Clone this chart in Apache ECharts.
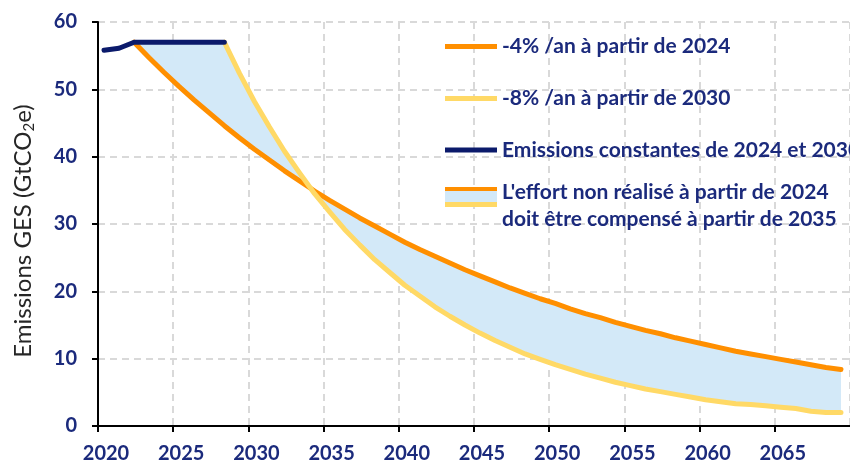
<!DOCTYPE html>
<html><head><meta charset="utf-8">
<script src="https://cdn.jsdelivr.net/npm/echarts@6/dist/echarts.min.js"></script>
<style>html,body{margin:0;padding:0;background:#fff}#c{width:850px;height:464px}</style>
</head><body><div id="c"></div>
<script>
// ---- data ----
const legendNames = [
  '-4% /an à partir de 2024',
  '-8% /an à partir de 2030',
  'Emissions constantes de 2024 et 2030',
  "L'effort non réalisé à partir de 2024\ndoit être compensé à partir de 2035"
];
// constant emissions (navy)
const navyYears  = [2020.4, 2021.4, 2022.4, 2023.4, 2024.4, 2025.4, 2026.4, 2027.4, 2028.4];
const navyValues = [55.8, 56.1, 57.0, 57.0, 57.0, 57.0, 57.0, 57.0, 57.0];
// -4%/an path (orange)
const orangeYears = [2022.4, 2023.4, 2024.4, 2025.4, 2026.4, 2027.4, 2028.4, 2029.4, 2030.4, 2031.4,
  2032.4, 2033.4, 2034.4, 2035.4, 2036.4, 2037.4, 2038.4, 2039.4, 2040.4, 2041.4,
  2042.4, 2043.4, 2044.4, 2045.4, 2046.4, 2047.4, 2048.4, 2049.4, 2050.4, 2051.4,
  2052.4, 2053.4, 2054.4, 2055.4, 2056.4, 2057.4, 2058.4, 2059.4, 2060.4, 2061.4,
  2062.4, 2063.4, 2064.4, 2065.4, 2066.4, 2067.4, 2068.4, 2069.4];
const orangeValues = [57.0, 54.7, 52.5, 50.4, 48.4, 46.5, 44.6, 42.8, 41.1, 39.5,
  37.9, 36.4, 34.9, 33.5, 32.2, 30.9, 29.7, 28.5, 27.3, 26.2,
  25.2, 24.2, 23.2, 22.3, 21.4, 20.5, 19.7, 18.9, 18.2, 17.4,
  16.7, 16.1, 15.4, 14.8, 14.2, 13.7, 13.1, 12.6, 12.1, 11.6,
  11.1, 10.7, 10.3, 9.9, 9.5, 9.1, 8.7, 8.4];
// -8%/an path (yellow)
const yellowYears = [2028.4, 2029.4, 2030.4, 2031.4, 2032.4, 2033.4, 2034.4, 2035.4, 2036.4, 2037.4,
  2038.4, 2039.4, 2040.4, 2041.4, 2042.4, 2043.4, 2044.4, 2045.4, 2046.4, 2047.4,
  2048.4, 2049.4, 2050.4, 2051.4, 2052.4, 2053.4, 2054.4, 2055.4, 2056.4, 2057.4,
  2058.4, 2059.4, 2060.4, 2061.4, 2062.4, 2063.4, 2064.4, 2065.4, 2066.4, 2067.4,
  2068.4, 2069.4];
const yellowValues = [57.0, 52.4, 48.2, 44.4, 40.8, 37.6, 34.5, 31.8, 29.2, 26.9,
  24.7, 22.8, 20.9, 19.3, 17.7, 16.3, 15.0, 13.8, 12.7, 11.7,
  10.7, 9.9, 9.1, 8.4, 7.7, 7.1, 6.5, 6.0, 5.5, 5.1,
  4.7, 4.3, 3.9, 3.6, 3.3, 3.2, 3.0, 2.8, 2.6, 2.2,
  2.0, 2.0];
const xMin = 2020, xMax = 2070, xStep = 5;
const yMin = 0, yMax = 60, yStep = 10;

const pairs = (xs, ys) => xs.map((x, i) => [x, ys[i]]);
// band: upper path = constant emissions then -8% path; lower path = -4% path
const upperPath = pairs(navyYears, navyValues).filter(p => p[0] >= orangeYears[0] && p[0] < yellowYears[0])
  .concat(pairs(yellowYears, yellowValues));
const lowerPath = pairs(orangeYears, orangeValues);

const NAVY_TXT = '#1b2a7c';
const FONT = 'Lato';
const ORANGE = '#ff8f00', YELLOW = '#ffd966', NAVY = '#0b1a6b', BAND = '#d3e9f8';

const legendBase = {
  orient: 'vertical', left: 445, padding: 0, itemWidth: 52, itemHeight: 5, icon: 'rect',
  selectedMode: false,
  textStyle: { color: NAVY_TXT, fontFamily: FONT, fontWeight: 'bold', fontSize: 21, lineHeight: 25 }
};

const chart = echarts.init(document.getElementById('c'), null, { renderer: 'canvas' });
chart.setOption({
  animation: false,
  grid: { left: 98, width: 761, top: 22, bottom: 37 },
  xAxis: {
    type: 'value', min: xMin, max: xMax, interval: xStep,
    axisLine: { lineStyle: { color: '#000', width: 2 } },
    axisTick: { length: 6, lineStyle: { color: '#000', width: 2 } },
    axisLabel: { color: NAVY_TXT, fontFamily: FONT, fontWeight: 'bold', fontSize: 20, margin: 18,
      padding: [0, 0, 0, 16], showMaxLabel: false, formatter: v => String(v) },
    splitLine: { show: true, lineStyle: { color: '#d9d9d9', width: 2, type: [7, 5] } }
  },
  yAxis: {
    type: 'value', min: yMin, max: yMax, interval: yStep,
    name: '{a|Emissions GES (GtCO}{s|2}{a|e)}',
    nameLocation: 'middle', nameGap: 61,
    nameTextStyle: {
      padding: [0, 14, 0, 0],
      rich: {
        a: { fontFamily: FONT, fontSize: 24, color: '#262626', lineHeight: 28 },
        s: { fontFamily: FONT, fontSize: 15, color: '#262626', lineHeight: 28, verticalAlign: 'bottom', padding: [11, 0, 0, 0] }
      }
    },
    axisLine: { show: true, lineStyle: { color: '#000', width: 2 } },
    axisTick: { show: true, length: 6, lineStyle: { color: '#000', width: 2 } },
    axisLabel: { color: NAVY_TXT, fontFamily: FONT, fontWeight: 'bold', fontSize: 20, margin: 21 },
    splitLine: { show: true, lineStyle: { color: '#d9d9d9', width: 2, type: [7, 5] } }
  },
  legend: [
    Object.assign({}, legendBase, { top: 34, data: [legendNames[0]] }),
    Object.assign({}, legendBase, { top: 86, data: [legendNames[1]] }),
    Object.assign({}, legendBase, { top: 137.5, data: [legendNames[2]] }),
    Object.assign({}, legendBase, { top: 178, itemHeight: 20, data: [legendNames[3]],
      itemStyle: { opacity: 0 },
      textStyle: Object.assign({}, legendBase.textStyle, { lineHeight: 27.5 }) })
  ],
  graphic: [
    { type: 'rect', shape: { x: 445, y: 187, width: 52, height: 20 }, style: { fill: BAND }, z: 100 },
    { type: 'rect', shape: { x: 445, y: 187, width: 52, height: 4 }, style: { fill: ORANGE }, z: 101 },
    { type: 'rect', shape: { x: 445, y: 202, width: 52, height: 5 }, style: { fill: YELLOW }, z: 101 }
  ],
  series: [
    { type: 'custom', name: legendNames[3], silent: true, z: 1, clip: true,
      data: [[orangeYears[0], orangeValues[0]]],
      itemStyle: { color: BAND },
      renderItem: (params, api) => {
        const pts = upperPath.map(p => api.coord(p))
          .concat(lowerPath.slice().reverse().map(p => api.coord(p)));
        return { type: 'polygon', shape: { points: pts }, style: { fill: BAND } };
      } },
    { type: 'line', name: legendNames[0], data: lowerPath, symbol: 'none',
      lineStyle: { color: ORANGE, width: 5, cap: 'round', join: 'round' }, itemStyle: { color: ORANGE }, z: 3 },
    { type: 'line', name: legendNames[1], data: pairs(yellowYears, yellowValues), symbol: 'none',
      lineStyle: { color: YELLOW, width: 5, cap: 'round', join: 'round' }, itemStyle: { color: YELLOW }, z: 4 },
    { type: 'line', name: legendNames[2], data: pairs(navyYears, navyValues), symbol: 'none',
      lineStyle: { color: NAVY, width: 5, cap: 'round', join: 'round' }, itemStyle: { color: NAVY }, z: 5 }
  ]
});
</script></body></html>
